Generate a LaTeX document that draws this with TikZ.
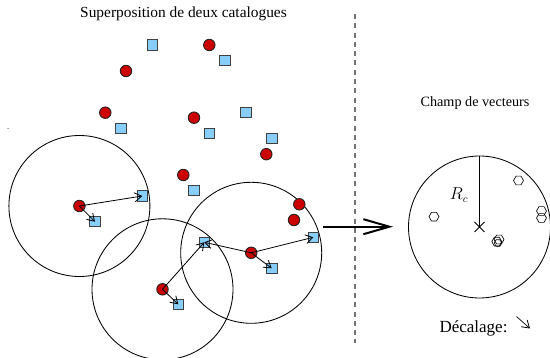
\documentclass[tikz,border=0pt]{standalone}
\usepackage{fontspec}
\setmainfont{Liberation Serif}
\usetikzlibrary{arrows.meta}
\definecolor{redpt}{HTML}{CC0000}
\definecolor{bluept}{HTML}{87CEFA}
\tikzset{
  redpt/.style={circle, fill=redpt, draw=black!85, line width=0.9pt, minimum size=11.5pt, inner sep=0pt},
  bluept/.style={rectangle, fill=bluept, draw=black!75, line width=0.9pt, minimum size=10.5pt, inner sep=0pt},
  zone/.style={draw=black, line width=0.85pt},
  vec/.style={-{Straight Barb[length=7pt,width=9pt,line width=0.8pt]}, line width=0.8pt, black},
  hexa/.style={draw=black, line width=0.65pt},
}
\begin{document}
\begin{tikzpicture}[x=1pt,y=-1pt]
\useasboundingbox (0,0) rectangle (550,358);
% title
\node (title) at (183.5,14) {\fontsize{15.4}{17}\selectfont Superposition de deux catalogues};
% dashed separator
\coordinate (dtop) at (355,14);
\coordinate (dbot) at (355,343);
\draw[black!55, line width=1.5pt, dash pattern=on 5pt off 4.3pt] (dtop) -- (dbot);
% stray dot
\fill (8,128.5) circle (0.5pt);
% big circles
\draw[zone] (79.4,206) circle (70.5);
\draw[zone] (162.5,289.3) circle (70.5);
\draw[zone] (251.2,252.8) circle (70.5);
% squares
\node[bluept] (s1) at (152.3,45) {};
\node[bluept] (s2) at (225,60.7) {};
\node[bluept] (s3) at (245.7,112.7) {};
\node[bluept] (s4) at (121,128.3) {};
\node[bluept] (s5) at (209.3,133.3) {};
\node[bluept] (s6) at (271.7,138.3) {};
\node[bluept] (s7) at (194,190.7) {};
\node[bluept] (s8) at (142.3,196) {};
\node[bluept] (s9) at (95,221.7) {};
\node[bluept] (s10) at (204.3,242.3) {};
\node[bluept] (s11) at (313.3,237.3) {};
\node[bluept] (s12) at (271.7,268.3) {};
\node[bluept] (s13) at (178.3,304.3) {};
% red circles
\node[redpt] (r1) at (209.3,45) {};
\node[redpt] (r2) at (126,71) {};
\node[redpt] (r3) at (105.3,112.7) {};
\node[redpt] (r4) at (194,117.7) {};
\node[redpt] (r5) at (266.3,154.2) {};
\node[redpt] (r6) at (183.3,175) {};
\node[redpt] (r7) at (299.3,204.3) {};
\node[redpt] (r8) at (294,220) {};
\node[redpt] (r9) at (79.4,206) {};
\node[redpt] (r10) at (162.5,289.3) {};
\node[redpt] (r11) at (251.2,252.8) {};
% vectors
\draw[vec] (r9.center) -- (s8.center);
\draw[vec] (r9.center) -- (s9.center);
\draw[vec] (r10.center) -- (s10.center);
\draw[vec] (r10.center) -- (s13.center);
\draw[vec] (r11.center) -- (s11.center);
\draw[vec] (r11.center) -- (s12.center);
\draw[vec] (r11.center) -- (s10.center);
% big arrow
\coordinate (ba) at (323,226.7);
\coordinate (bb) at (393,226.7);
\draw[line width=2pt, -{Straight Barb[length=26pt,width=15pt,line width=2pt]}] (ba) -- (bb);
% right panel
\node (champ) at (475,103) {\fontsize{14.2}{16}\selectfont Champ de vecteurs};
\node[circle, draw=black, line width=0.85pt, minimum size=142pt, inner sep=0pt] (field) at (479.5,227) {};
\coordinate (ctr) at (479.5,227);
\draw[line width=0.85pt] (field.north) -- (ctr);
\draw[line width=0.8pt] (474.5,222) -- (484.5,232) (474.5,232) -- (484.5,222);
\node (rc) at (459,195) {\fontsize{16}{18}\selectfont $R_c$};
% hexagons
\foreach \p/\r in {{(434,216.7)}/5, {(518.5,180.5)}/5, {(541.5,211)}/5, {(541.5,218)}/5, {(499,239.5)}/5, {(496.8,241.6)}/5, {(498,243)}/3.8}{
  \draw[hexa] \p +(0:\r) -- +(60:\r) -- +(120:\r) -- +(180:\r) -- +(240:\r) -- +(300:\r) -- cycle;
}
\node (dec) at (473.5,328) {\fontsize{17}{19}\selectfont Décalage:};
\coordinate (da) at (516.5,316.5);
\coordinate (db) at (530,328.5);
\draw[vec, line width=0.7pt] (da) -- (db);
\end{tikzpicture}
\end{document}
